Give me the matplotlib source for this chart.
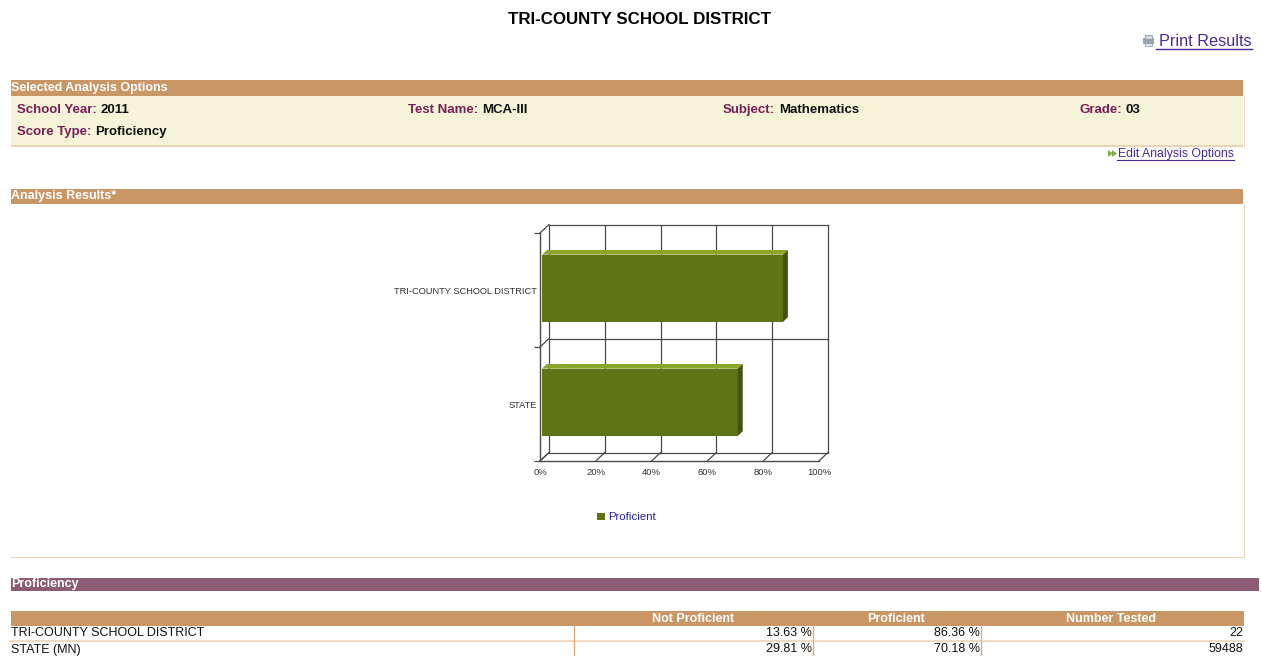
import matplotlib
matplotlib.use("Agg")
import matplotlib.pyplot as plt
from matplotlib.patches import Polygon, Rectangle

# chart values
categories = ["STATE", "TRI-COUNTY SCHOOL DISTRICT"]
proficient = [70.18, 86.36]
x_ticks = [0, 20, 40, 60, 80, 100]

# table values
table_columns = ["Not Proficient", "Proficient", "Number Tested"]
table_rows = ["TRI-COUNTY SCHOOL DISTRICT", "STATE (MN)"]
not_proficient_txt = ["13.63 %", "29.81 %"]
proficient_txt = ["86.36 %", "70.18 %"]
number_tested = ["22", "59488"]

# option strip
options_row1 = [("School Year:", "2011", 17), ("Test Name:", "MCA-III", 408),
                ("Subject:", "Mathematics", 723), ("Grade:", "03", 1079)]
options_row2 = [("Score Type:", "Proficiency", 17)]

TAN = "#c99665"
TAN_LIGHT = "#ecd3b8"
CREAM = "#f5f4d9"
PLUM = "#8b5d75"
LABEL = "#7a1f55"
LINK = "#4b2a9a"
GREEN = "#5f7317"
GREEN_TOP = "#8ba52c"
GREEN_SIDE = "#435310"
GRID = "#4a4a4a"

plt.rcParams["font.family"] = ["Liberation Sans", "DejaVu Sans"]

fig = plt.figure(figsize=(12.62, 6.56), dpi=100, facecolor="white")

# whole page in pixel coordinates
page = fig.add_axes([0, 0, 1, 1])
page.set_xlim(0, 1262)
page.set_ylim(656, 0)
page.axis("off")


def band(x0, x1, y0, y1, color):
    page.add_patch(Rectangle((x0, y0), x1 - x0, y1 - y0, fc=color, ec="none"))


def measure(txt):
    r = fig.canvas.get_renderer()
    return txt.get_window_extent(r).width


page.text(639, 19, "TRI-COUNTY SCHOOL DISTRICT", ha="center", va="center",
          fontsize=12.2, fontweight="bold", color="black")

# print link
page.add_patch(Rectangle((1143, 38), 11, 6, fc="#9aa5b0", ec="none"))
page.add_patch(Rectangle((1145, 35), 7, 4, fc="#d5dae0", ec="#8a95a0", lw=0.5))
page.add_patch(Rectangle((1145, 43), 7, 3, fc="#e6e9ec", ec="#8a95a0", lw=0.5))
page.text(1252, 41, "Print Results", ha="right", va="center", fontsize=11.7, color=LINK)
page.plot([1156, 1252], [49, 49], color=LINK, lw=1)

# selected options
band(11, 1243, 80, 96, TAN)
band(11, 1243, 96, 145, CREAM)
band(11, 1243, 145, 146.5, TAN_LIGHT)
page.plot([1243.5, 1243.5], [96, 146], color=TAN_LIGHT, lw=0.7)
page.text(11, 88, "Selected Analysis Options", ha="left", va="center",
          fontsize=9, fontweight="bold", color="white")

for row, y in ((options_row1, 110), (options_row2, 132)):
    for label, val, x in row:
        t = page.text(x, y, label, ha="left", va="center", fontsize=9.5,
                      fontweight="bold", color=LABEL)
        page.text(x + measure(t) + 4, y, val, ha="left", va="center", fontsize=9.5,
                  fontweight="bold", color="#111111")

page.text(1234, 153.5, "Edit Analysis Options", ha="right", va="center", fontsize=8.8, color=LINK)
page.plot([1117, 1234], [160, 160], color=LINK, lw=0.8)
page.add_patch(Polygon([(1108, 150), (1113, 153.5), (1108, 157)], fc="#7fae4a", ec="none"))
page.add_patch(Polygon([(1112, 150), (1117, 153.5), (1112, 157)], fc="#7fae4a", ec="none"))

# analysis results box
band(11, 1243, 189, 204, TAN)
page.plot([1243.5, 1243.5], [204, 557], color=TAN_LIGHT, lw=0.7)
page.plot([11, 1243.5], [557, 557], color=TAN_LIGHT, lw=0.8)
page.text(11, 196, "Analysis Results*", ha="left", va="center",
          fontsize=9, fontweight="bold", color="white")

# legend
page.add_patch(Rectangle((597, 513), 8, 7, fc=GREEN, ec="none"))
page.text(608.5, 516.5, "Proficient", ha="left", va="center", fontsize=8.2, color="#2323a8")

# proficiency strip and table
band(11, 1259, 578, 591, PLUM)
page.text(11, 583.5, "Proficiency", ha="left", va="center", fontsize=9,
          fontweight="bold", color="white")

band(11, 1244, 611, 626, TAN)
col_centres = [693, 896, 1111]
col_rights = [812, 980, 1243]
for name, x in zip(table_columns, col_centres):
    page.text(x, 618.5, name, ha="center", va="center", fontsize=9,
              fontweight="bold", color="white")
page.plot([11, 1244], [641, 641], color=TAN_LIGHT, lw=1.2)
for x in (573.5, 812.5, 980.5):
    page.plot([x, x], [626, 656], color="#e0a878", lw=0.9)
row_ys = [633.5, 649.5]
for i, y in enumerate(row_ys):
    page.text(11, y, table_rows[i], ha="left", va="center", fontsize=9, color="#111111")
    vals = [not_proficient_txt[i], proficient_txt[i], number_tested[i]]
    for v, x in zip(vals, col_rights):
        page.text(x, y, v, ha="right", va="center", fontsize=9, color="#111111")

# bar chart, axes box is the front plane of the fake 3d chart
ax = fig.add_axes([540 / 1262, 1 - 461 / 656, 279 / 1262, 228 / 656], facecolor="none")
ax.set_xlim(0, 100)
ax.set_ylim(0, len(categories))
for s in ax.spines.values():
    s.set_visible(False)

dx = 9 / 2.79
dy = 8.5 / 114
positions = list(range(len(categories)))
y_pos = [p + 0.5 for p in positions]
bar_h = 0.59
lead_x = dx * 0.22  # bars sit a little inside the depth
lead_y = dy * 0.2

# back plane, floor and left wall
for t in x_ticks:
    ax.plot([t + dx, t + dx], [dy, 2 + dy], color=GRID, lw=0.9, clip_on=False)
    ax.plot([t, t + dx], [0, dy], color=GRID, lw=0.9, clip_on=False)
for g in (0, 1, 2):
    ax.plot([dx, 100 + dx], [g + dy, g + dy], color=GRID, lw=0.9, clip_on=False)
    ax.plot([0, dx], [g, g + dy], color=GRID, lw=0.9, clip_on=False)
ax.plot([0, 0], [0, 2], color=GRID, lw=1, clip_on=False)
ax.plot([0, 100], [0, 0], color=GRID, lw=1, clip_on=False)

bar_y = [y + lead_y for y in y_pos]
ax.barh(bar_y, proficient, left=lead_x, height=bar_h, color=GREEN, zorder=4)
for v, y in zip(proficient, bar_y):
    top = y + bar_h / 2
    bot = y - bar_h / 2
    x0 = lead_x
    x1 = lead_x + v
    ax.add_patch(Polygon([(x0, top), (x0 + dx * 0.55, top + dy * 0.55), (x1 + dx * 0.55, top + dy * 0.55), (x1, top)],
                         fc=GREEN_TOP, ec="none", zorder=4, clip_on=False))
    ax.add_patch(Polygon([(x1, top), (x1 + dx * 0.55, top + dy * 0.55), (x1 + dx * 0.55, bot + dy * 0.55), (x1, bot)],
                         fc=GREEN_SIDE, ec="none", zorder=4, clip_on=False))

ax.set_xticks(x_ticks)
ax.set_xticklabels([f"{t}%" for t in x_ticks], fontsize=6.8, color="#333333")
ax.tick_params(axis="x", length=0, pad=5)
ax.set_yticks(positions + [2])
ax.set_yticklabels([""] * 3)
ax.tick_params(axis="y", length=4, width=0.9, color=GRID)
ax.set_yticks(y_pos, minor=True)
ax.set_yticklabels(categories, minor=True, fontsize=6.7, color="#333333")
ax.tick_params(axis="y", which="minor", length=0, pad=2.5)

fig.savefig("out.png", dpi=100)
